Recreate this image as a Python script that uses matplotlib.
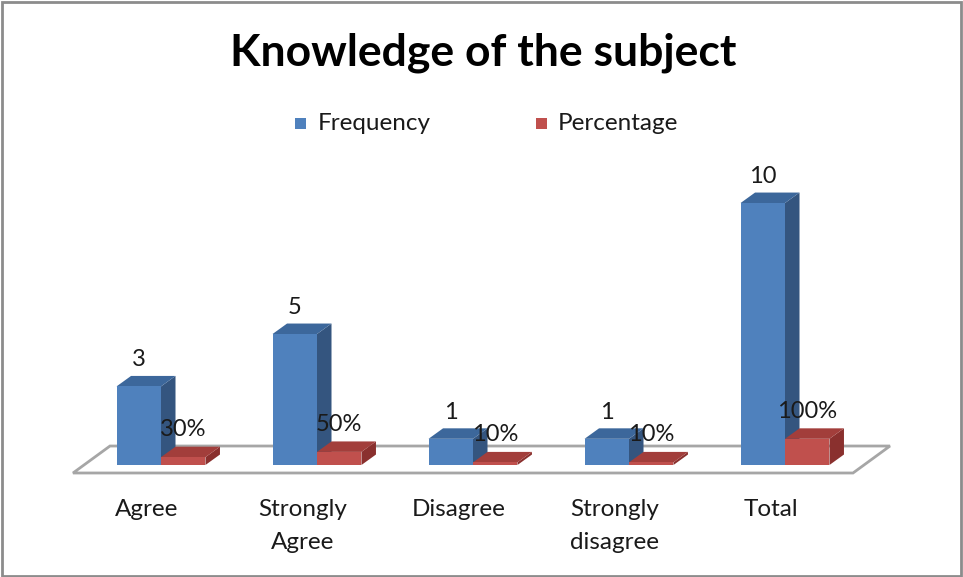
import matplotlib
matplotlib.use("Agg")
import matplotlib.pyplot as plt
from matplotlib.patches import Polygon, Rectangle

categories = ["Agree", "Strongly\nAgree", "Disagree", "Strongly\ndisagree", "Total"]
frequency = [3, 5, 1, 1, 10]
percentage = [0.30, 0.50, 0.10, 0.10, 1.00]
freq_labels = ["3", "5", "1", "1", "10"]
pct_labels = ["30%", "50%", "10%", "10%", "100%"]

FONT = "Lato"
BLUE = ("#4F81BD", "#3C679B", "#34557F")   # front, top, side
RED = ("#C0504D", "#A23E3B", "#8A302E")

W = 0.285      # bar width (category units)
DX = 0.093     # depth offset in x
DY = 0.40      # depth offset in value units

fig = plt.figure(figsize=(9.63, 5.77), dpi=100)
ax = fig.add_axes([0, 0, 1, 1])
ax.set_xlim(-1.032, 5.141)
ax.set_ylim(-4.275, 17.75)
ax.axis("off")

# floor of the 3D plot area
floor_front, floor_back = -0.305, 0.725
floor = Polygon([(-0.564, floor_front), (4.436, floor_front),
                 (4.673, floor_back), (-0.327, floor_back)],
                closed=True, facecolor="white", edgecolor="#a6a6a6", lw=2, zorder=1)
ax.add_patch(floor)


def bar3d(x0, h, colors, z):
    front, top, side = colors
    x1 = x0 + W
    ax.add_patch(Polygon([(x1, 0), (x1 + DX, DY), (x1 + DX, h + DY), (x1, h)],
                         closed=True, facecolor=side, edgecolor="none", zorder=z))
    ax.add_patch(Polygon([(x0, h), (x1, h), (x1 + DX, h + DY), (x0 + DX, h + DY)],
                         closed=True, facecolor=top, edgecolor="none", zorder=z))
    ax.add_patch(Polygon([(x0, 0), (x1, 0), (x1, h), (x0, h)],
                         closed=True, facecolor=front, edgecolor="none", zorder=z))


for i, (f, p) in enumerate(zip(frequency, percentage)):
    bar3d(i - W, f, BLUE, 2 + 2 * i)
    bar3d(i, p, RED, 3 + 2 * i)

for i, (f, p) in enumerate(zip(frequency, percentage)):
    ax.text(i - W / 2, f + DY + 0.62, freq_labels[i], ha="center", va="center",
            fontsize=17, family=FONT, color="#1a1a1a", zorder=20)
    ax.text(i + W / 2, p + DY + 0.65, pct_labels[i], ha="center", va="center",
            fontsize=17, family=FONT, color="#1a1a1a", zorder=20)
    ax.text(i - 0.09, -1.3, categories[i], ha="center", va="top",
            fontsize=17.5, family=FONT, color="#1a1a1a", linespacing=1.7)

# title
fig.text(483 / 963, 1 - 53 / 577, "Knowledge of the subject", ha="center", va="center",
         fontsize=32, fontweight="bold", family=FONT, color="black")

# legend
for x_sq, x_txt, col, name in [(295, 318, BLUE[0], "Frequency"), (536, 558, RED[0], "Percentage")]:
    fig.patches.append(Rectangle((x_sq / 963, 1 - 129 / 577), 11 / 963, 11 / 577,
                                 transform=fig.transFigure, facecolor=col, edgecolor="none"))
    fig.text(x_txt / 963, 1 - 123 / 577, name, ha="left", va="center",
             fontsize=17.5, family=FONT, color="#1a1a1a")

# chart-area border
fig.patches.append(Rectangle((0.002, 0.002), 0.996, 0.995, transform=fig.transFigure,
                             facecolor="none", edgecolor="#8c8c8c", lw=2))

fig.savefig("out.png", dpi=100)
